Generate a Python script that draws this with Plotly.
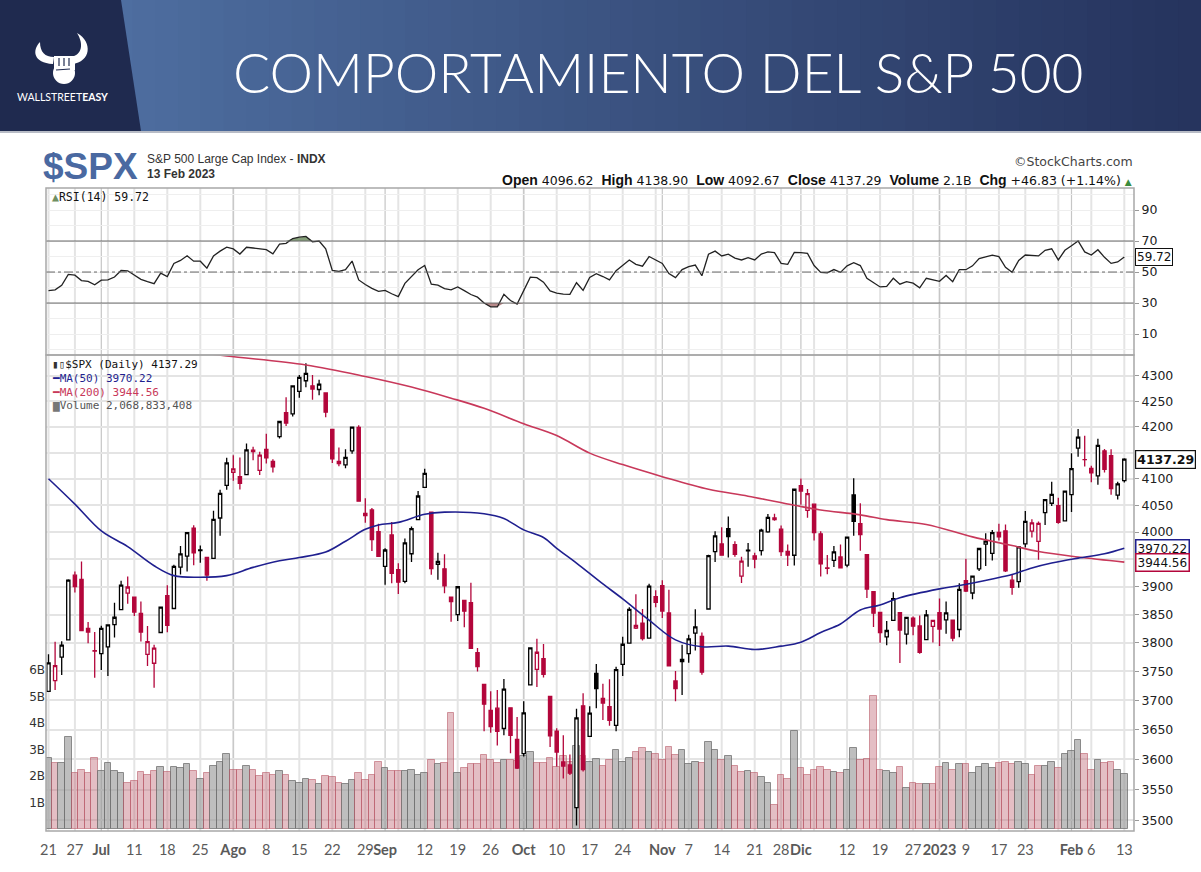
import numpy as np
import plotly.graph_objects as go

W, H = 1201, 872

# trading days shown on the chart
month_days = {
    "2022-06": [21, 22, 23, 24, 27, 28, 29, 30],
    "2022-07": [1, 5, 6, 7, 8, 11, 12, 13, 14, 15, 18, 19, 20, 21, 22, 25, 26, 27, 28, 29],
    "2022-08": [1, 2, 3, 4, 5, 8, 9, 10, 11, 12, 15, 16, 17, 18, 19, 22, 23, 24, 25, 26, 29, 30, 31],
    "2022-09": [1, 2, 6, 7, 8, 9, 12, 13, 14, 15, 16, 19, 20, 21, 22, 23, 26, 27, 28, 29, 30],
    "2022-10": [3, 4, 5, 6, 7, 10, 11, 12, 13, 14, 17, 18, 19, 20, 21, 24, 25, 26, 27, 28, 31],
    "2022-11": [1, 2, 3, 4, 7, 8, 9, 10, 11, 14, 15, 16, 17, 18, 21, 22, 23, 25, 28, 29, 30],
    "2022-12": [1, 2, 5, 6, 7, 8, 9, 12, 13, 14, 15, 16, 19, 20, 21, 22, 23, 27, 28, 29, 30],
    "2023-01": [3, 4, 5, 6, 9, 10, 11, 12, 13, 17, 18, 19, 20, 23, 24, 25, 26, 27, 30, 31],
    "2023-02": [1, 2, 3, 6, 7, 8, 9, 10, 13],
}
dates = [f"{m}-{d:02d}" for m, days in month_days.items() for d in days]

open_ = [3715.31, 3733.89, 3774.71, 3805.12, 3920.76, 3913.00, 3825.09, 3785.99,
         3781.00, 3792.61, 3831.98, 3858.85, 3888.26, 3880.94, 3851.95, 3779.67, 3763.99, 3818.00,
         3883.79, 3860.73, 3935.32, 3955.47, 4007.36, 3965.72, 3953.22, 3951.43, 4026.13, 4087.33,
         4112.38, 4104.21, 4107.96, 4154.85, 4115.87, 4155.93, 4133.11, 4181.02, 4227.40, 4225.02,
         4269.37, 4290.46, 4280.40, 4273.13, 4266.31, 4195.08, 4133.09, 4126.55, 4153.26, 4198.74,
         4034.58, 4041.25, 4000.67,
         3936.73, 3994.66, 3930.89, 3909.43, 3959.94, 4022.94, 4083.67, 4037.12, 3940.73, 3932.41,
         3880.95, 3849.91, 3875.23, 3871.40, 3782.36, 3727.14, 3682.72, 3686.44, 3651.94, 3687.01,
         3633.48,
         3609.78, 3726.46, 3753.25, 3771.97, 3706.74, 3647.51, 3595.86, 3590.83, 3520.37, 3690.41,
         3638.65, 3746.26, 3703.11, 3689.05, 3657.10, 3762.01, 3799.44, 3825.97, 3834.69, 3808.26,
         3881.85,
         3901.79, 3852.90, 3733.25, 3766.98, 3780.71, 3817.02, 3810.94, 3859.89, 3963.72, 3977.97,
         4006.41, 3976.82, 3919.26, 3966.39, 3956.23, 3965.51, 4000.30, 4023.34, 4005.36, 3964.19,
         3957.18,
         4087.14, 4040.17, 4052.02, 3996.63, 3933.28, 3947.79, 3954.17, 3939.29, 4069.38, 4015.54,
         3958.37, 3890.91, 3853.79, 3810.47, 3839.49, 3853.26, 3815.11, 3843.34, 3829.56, 3805.45,
         3829.06,
         3853.29, 3840.36, 3839.74, 3823.37, 3910.82, 3888.57, 3932.35, 3977.57, 3960.60, 3999.28,
         4002.25, 3911.84, 3909.04, 3978.14, 4001.74, 3982.71, 4036.08, 4053.72, 4049.27, 4020.85,
         4070.07, 4158.68, 4136.69, 4119.57, 4105.35, 4153.47, 4144.25, 4068.92, 4096.62]

high = [3779.65, 3801.79, 3802.58, 3913.65, 3927.72, 3945.86, 3836.50, 3818.99,
        3829.82, 3832.19, 3870.91, 3910.63, 3918.50, 3880.94, 3873.41, 3829.44, 3796.41, 3863.62,
        3902.44, 3939.81, 3974.13, 3999.29, 4012.44, 3975.30, 3953.22, 4039.56, 4078.95, 4140.15,
        4144.95, 4140.47, 4167.66, 4161.29, 4151.58, 4186.62, 4137.30, 4211.03, 4257.91, 4280.47,
        4301.79, 4325.28, 4302.18, 4292.53, 4266.31, 4195.08, 4159.77, 4156.56, 4200.54, 4203.04,
        4062.99, 4044.98, 4015.37,
        3970.23, 4018.43, 3942.55, 3987.89, 4010.50, 4076.81, 4119.28, 4037.12, 3961.94, 3959.14,
        3880.95, 3900.45, 3876.01, 3907.07, 3790.75, 3727.14, 3715.67, 3717.53, 3736.74, 3687.01,
        3671.44,
        3698.35, 3791.92, 3806.91, 3797.93, 3706.74, 3652.17, 3640.66, 3608.34, 3685.41, 3712.00,
        3689.73, 3762.79, 3728.58, 3736.00, 3757.89, 3810.74, 3862.85, 3886.15, 3859.95, 3905.42,
        3893.73,
        3911.79, 3894.44, 3750.59, 3796.34, 3813.95, 3859.40, 3818.20, 3958.33, 4001.48, 4008.97,
        4028.84, 3983.09, 3954.33, 3979.89, 3962.00, 4005.88, 4033.78, 4034.02, 4012.27, 3976.77,
        4080.11,
        4100.51, 4080.48, 4052.45, 4001.51, 3957.57, 3974.19, 3977.02, 3990.71, 4100.96, 4053.76,
        3958.37, 3890.91, 3854.86, 3838.24, 3889.82, 3853.26, 3845.80, 3846.65, 3848.32, 3858.19,
        3839.85,
        3878.46, 3873.16, 3839.74, 3906.19, 3950.57, 3919.83, 3970.07, 3997.76, 4003.95, 4015.39,
        4014.16, 3922.94, 3972.96, 4039.31, 4023.92, 4019.55, 4061.57, 4094.21, 4063.85, 4077.16,
        4148.95, 4195.44, 4182.36, 4124.63, 4176.54, 4156.85, 4156.23, 4094.36, 4138.90]

low = [3715.31, 3717.69, 3743.52, 3805.12, 3889.66, 3820.14, 3799.02, 3738.67,
       3752.10, 3742.06, 3809.37, 3858.85, 3869.34, 3847.22, 3802.36, 3759.07, 3721.56, 3817.18,
       3818.63, 3860.73, 3922.03, 3927.64, 3938.85, 3943.46, 3910.74, 3951.43, 3992.97, 4079.22,
       4096.02, 4079.81, 4107.96, 4135.42, 4107.31, 4128.97, 4112.09, 4177.26, 4201.41, 4219.78,
       4256.90, 4277.77, 4253.08, 4261.98, 4218.70, 4129.86, 4124.03, 4119.97, 4147.59, 4057.66,
       4017.42, 3965.21, 3954.53,
       3903.65, 3906.21, 3886.75, 3906.03, 3944.81, 4022.94, 4083.67, 3921.73, 3912.33, 3888.28,
       3837.08, 3838.50, 3827.54, 3789.49, 3749.45, 3647.47, 3644.76, 3623.29, 3640.61, 3610.40,
       3584.13,
       3604.93, 3726.46, 3722.66, 3739.22, 3620.73, 3588.10, 3568.45, 3573.86, 3491.58, 3579.68,
       3638.65, 3686.53, 3666.51, 3656.44, 3647.42, 3741.65, 3799.44, 3824.07, 3803.79, 3808.26,
       3863.18,
       3843.80, 3758.68, 3698.15, 3708.84, 3764.70, 3786.28, 3744.22, 3859.89, 3944.82, 3956.40,
       3953.17, 3954.34, 3906.54, 3935.98, 3933.34, 3956.88, 3998.66, 4020.76, 3955.77, 3937.65,
       3938.58,
       4050.87, 4026.63, 3984.49, 3918.39, 3922.68, 3935.83, 3933.04, 3935.30, 3993.03, 3965.65,
       3879.45, 3827.91, 3800.04, 3795.62, 3839.49, 3764.49, 3797.01, 3813.22, 3780.78, 3805.45,
       3800.34,
       3794.33, 3815.77, 3802.42, 3809.56, 3890.42, 3877.29, 3928.54, 3937.56, 3947.67, 3984.57,
       3926.59, 3885.54, 3897.86, 3971.64, 3989.79, 3949.06, 4013.29, 4048.70, 4015.55, 4020.44,
       4037.20, 4141.88, 4123.36, 4093.38, 4088.39, 4111.67, 4069.67, 4060.79, 4092.67]

close = [3764.79, 3759.89, 3795.73, 3911.74, 3900.11, 3821.55, 3818.83, 3785.38,
         3825.33, 3831.39, 3845.08, 3902.62, 3899.38, 3854.43, 3818.80, 3801.78, 3790.38, 3863.16,
         3830.85, 3936.69, 3959.90, 3998.95, 3961.63, 3966.84, 3921.05, 4023.61, 4072.43, 4130.29,
         4118.63, 4091.19, 4155.17, 4151.94, 4145.19, 4140.06, 4122.47, 4210.24, 4207.27, 4280.15,
         4297.14, 4305.20, 4274.04, 4283.74, 4228.48, 4137.99, 4128.73, 4140.77, 4199.12, 4057.66,
         4030.61, 3986.16, 3955.00,
         3966.85, 3924.26, 3908.19, 3979.87, 4006.18, 4067.36, 4110.41, 3932.69, 3946.01, 3901.35,
         3873.33, 3899.89, 3855.93, 3789.93, 3757.99, 3693.23, 3655.04, 3647.29, 3719.04, 3640.47,
         3585.62,
         3678.43, 3790.93, 3783.28, 3744.52, 3639.66, 3612.39, 3588.84, 3577.03, 3669.91, 3583.07,
         3677.95, 3719.98, 3695.16, 3665.78, 3752.75, 3797.34, 3859.11, 3830.60, 3807.30, 3901.06,
         3871.98,
         3856.10, 3759.69, 3719.89, 3770.55, 3806.80, 3828.11, 3748.57, 3956.37, 3992.93, 3957.25,
         3991.73, 3958.79, 3946.56, 3965.34, 3949.94, 4003.58, 4027.26, 4026.12, 3963.94, 3957.63,
         4080.11,
         4076.57, 4071.70, 3998.84, 3941.26, 3933.92, 3963.51, 3934.38, 3990.56, 4019.65, 3995.32,
         3895.75, 3852.36, 3817.66, 3821.62, 3878.44, 3822.39, 3844.82, 3829.25, 3783.22, 3849.28,
         3839.50,
         3824.14, 3852.97, 3808.10, 3895.08, 3892.09, 3919.25, 3969.61, 3983.17, 3999.09, 3990.97,
         3928.86, 3898.85, 3972.61, 4019.81, 4016.95, 4016.22, 4060.43, 4070.56, 4017.77, 4076.60,
         4119.21, 4179.76, 4136.48, 4111.08, 4164.00, 4117.86, 4081.50, 4090.46, 4137.29]
close_before_first = 3674.84

# volume in billions of shares
volume_b = [2.68, 2.49, 2.49, 3.47, 2.10, 2.23, 2.10, 2.68, 2.19, 2.49, 2.19, 2.11, 1.74, 1.81,
            2.15, 2.04, 2.19, 2.34, 2.15, 2.34, 2.30, 2.45, 2.19, 1.89, 2.11, 2.38, 2.53, 2.83,
            2.23, 2.23, 2.38, 2.23, 2.00, 2.11, 2.04, 2.19, 2.04, 1.81, 1.74, 1.89, 1.85, 1.70,
            2.00, 1.96, 1.74, 1.70, 1.85, 2.11, 1.85, 2.04, 2.53, 2.30, 2.19, 2.19, 2.19, 2.23,
            2.04, 2.11, 2.60, 2.45, 2.49, 4.38, 2.11, 2.30, 2.45, 2.45, 2.79, 2.60, 2.49, 2.60,
            2.60, 2.57, 2.75, 2.91, 2.49, 2.49, 2.69, 2.34, 2.75, 2.53, 3.13, 2.75,
            2.53, 2.64, 2.38, 2.60, 2.98, 2.53, 2.68, 2.91, 3.06, 2.91, 2.83, 2.60, 3.09, 2.79,
            2.98, 2.45, 2.53, 2.49, 3.28, 2.98, 2.60, 2.75, 2.38, 2.15, 2.19, 2.11, 1.96, 1.74,
            0.91, 2.04, 1.89, 3.70, 2.30, 2.04, 2.23, 2.34, 2.23, 2.15, 2.11, 2.23, 3.06,
            2.60, 2.64, 5.02, 2.23, 2.19, 2.11, 2.34, 1.55, 1.74, 1.70, 1.70, 1.70, 2.34, 2.49,
            2.23, 2.45, 2.45, 2.11, 2.34, 2.45, 2.30, 2.49, 2.53, 2.45, 2.53, 2.45, 2.04, 2.38,
            2.38, 2.53, 2.30, 2.83, 2.94, 3.36, 2.83, 2.23, 2.60, 2.49, 2.53, 2.23, 2.07]

rsi = [38.0, 38.5, 41.5, 48.5, 48.0, 44.5, 44.0, 41.8, 44.8, 45.0, 46.8, 51.0, 50.8, 48.3, 45.3,
       43.8, 42.5, 49.3, 47.1,
       55.5, 57.5, 60.5, 57.0, 57.0, 52.5, 60.4, 63.5, 66.0, 64.9, 61.6, 66.0, 65.5, 64.9, 64.4,
       61.8, 68.0, 68.5, 71.6, 72.5, 73.0, 69.5, 70.0, 65.0,
       51.0, 50.4, 51.5, 57.1, 44.9, 42.0, 39.5, 37.6, 38.2, 36.0, 34.2, 42.7, 47.1, 51.5, 54.2,
       42.2, 41.5, 39.3, 38.5, 40.4, 38.0, 35.5, 33.8, 30.0, 27.6, 27.5, 35.6, 31.6, 29.3,
       37.5, 46.7, 46.4, 43.5, 37.8, 36.4, 35.8, 35.6, 43.1, 38.2, 46.5, 48.9, 47.1, 44.9, 50.9,
       54.5, 57.8, 55.0, 53.8, 60.0, 57.5, 55.5, 49.0, 46.4, 51.6, 53.5, 54.5, 47.6,
       61.5, 63.5, 60.4, 61.5, 59.0, 57.8, 59.3, 57.8, 61.6, 63.0, 62.5, 55.6, 55.0, 62.7, 62.5,
       62.0, 54.2, 49.8, 49.5, 51.6, 49.8, 54.0, 56.0, 54.2, 46.0, 43.0, 40.4, 40.8, 46.0, 42.2,
       43.8, 42.8, 39.8, 46.0, 45.0,
       44.0, 47.8, 43.8, 51.6, 51.5, 54.0, 58.7, 59.8, 60.9, 60.0, 53.0, 49.8, 57.5, 61.0, 60.5,
       60.4, 64.0, 65.0, 57.8, 64.0, 67.0, 70.0, 63.0, 61.0, 64.4, 59.5, 55.6, 56.5, 59.72]

# moving averages at selected days (index into dates)
ma50_idx = [0, 4, 8, 12, 16, 19, 23, 27, 31, 35, 38, 42, 45, 48, 50, 53, 57, 60, 66, 69, 72, 75,
            77, 80, 84, 87, 91, 95, 99, 103, 107, 111, 114, 117, 120, 123, 126, 129, 135, 138,
            143, 146, 149, 152, 156, 160, 163]
ma50_val = [4100, 4052, 4002, 3973, 3938, 3920, 3917, 3920, 3935, 3947, 3953, 3963, 3983, 4005,
            4013, 4018, 4033, 4037, 4034, 4025, 4004, 3990, 3970, 3943, 3905, 3878, 3840, 3805,
            3793, 3794, 3788, 3794, 3801, 3818, 3833, 3858, 3867, 3880, 3896, 3902, 3914, 3922,
            3934, 3943, 3952, 3960, 3970.22]
ma200_idx = [0, 10, 20, 27, 39, 48, 55, 61, 66, 72, 77, 82, 87, 93, 100, 106, 113, 117, 123, 127,
             133, 140, 146, 150, 156, 163]
ma200_val = [4385, 4369, 4352, 4340, 4322, 4299, 4278, 4256, 4236, 4206, 4183, 4149, 4127, 4104,
             4080, 4067, 4050, 4041, 4032, 4023, 4014, 3991, 3975, 3964, 3954, 3944.56]

tick_dates = ["2022-06-21", "2022-06-27", "2022-07-01", "2022-07-11", "2022-07-18", "2022-07-25",
              "2022-08-01", "2022-08-08", "2022-08-15", "2022-08-22", "2022-08-29", "2022-09-01",
              "2022-09-12", "2022-09-19", "2022-09-26", "2022-10-03", "2022-10-10", "2022-10-17",
              "2022-10-24", "2022-11-01", "2022-11-07", "2022-11-14", "2022-11-21", "2022-11-28",
              "2022-12-01", "2022-12-12", "2022-12-19", "2022-12-27", "2023-01-03", "2023-01-09",
              "2023-01-17", "2023-01-23", "2023-02-01", "2023-02-06", "2023-02-13"]
tick_text = ["21", "27", "<b>Jul</b>", "11", "18", "25", "<b>Ago</b>", "8", "15", "22", "29",
             "<b>Sep</b>", "12", "19", "26", "<b>Oct</b>", "10", "17", "24", "<b>Nov</b>", "7",
             "14", "21", "28", "<b>Dic</b>", "12", "19", "27", "<b>2023</b>", "9", "17", "23",
             "<b>Feb</b>", "6", "13"]
week_starts = ["2022-06-21", "2022-06-27", "2022-07-05", "2022-07-11", "2022-07-18", "2022-07-25",
               "2022-08-01", "2022-08-08", "2022-08-15", "2022-08-22", "2022-08-29", "2022-09-06",
               "2022-09-12", "2022-09-19", "2022-09-26", "2022-10-03", "2022-10-10", "2022-10-17",
               "2022-10-24", "2022-10-31", "2022-11-07", "2022-11-14", "2022-11-21", "2022-11-28",
               "2022-12-05", "2022-12-12", "2022-12-19", "2022-12-27", "2023-01-03", "2023-01-09",
               "2023-01-17", "2023-01-23", "2023-01-30", "2023-02-06", "2023-02-13"]
month_starts = ["2022-07-01", "2022-08-01", "2022-09-01", "2022-10-03", "2022-11-01",
                "2022-12-01", "2023-01-03", "2023-02-01"]
price_ticks = list(range(3500, 4301, 50))
hidden_price_labels = [3950, 4150]  # covered by the value boxes on the chart
rsi_ticks = [10, 30, 50, 70, 90]
vol_ticks = [1, 2, 3, 4, 5, 6]

RED = "#b3063b"
BLUE = "#1f1f8f"


def px(x):
    return x / W


def py(y):
    return 1 - y / H


def pt(x, y):
    return f"{px(x):.5f},{py(y):.5f}"


# colouring rule of the chart: black when close >= previous close, red otherwise
close_arr = np.array(close)
prev_close = np.concatenate([[close_before_first], close_arr[:-1]])
up = close_arr >= prev_close
idx_up = np.where(up)[0]
idx_dn = np.where(~up)[0]


def pick(seq, idx):
    return [seq[i] for i in idx]


fig = go.Figure()

# volume (base axis of the price panel, drawn beneath the candles)
fig.add_trace(go.Bar(
    x=dates, y=volume_b, yaxis="y2",
    marker=dict(color=["rgba(150,150,150,0.62)" if u else "rgba(190,100,115,0.42)" for u in up],
                line=dict(color=["rgba(110,110,110,0.75)" if u else "rgba(180,80,95,0.55)" for u in up],
                          width=1)),
    hoverinfo="skip"))

# moving averages
fig.add_trace(go.Scatter(x=pick(dates, ma200_idx), y=ma200_val, yaxis="y3", mode="lines",
                         line=dict(color="#c8385a", width=1.6, shape="spline"), hoverinfo="skip"))
fig.add_trace(go.Scatter(x=pick(dates, ma50_idx), y=ma50_val, yaxis="y3", mode="lines",
                         line=dict(color=BLUE, width=1.6, shape="spline"), hoverinfo="skip"))

# candles
fig.add_trace(go.Candlestick(
    x=pick(dates, idx_up), open=pick(open_, idx_up), high=pick(high, idx_up),
    low=pick(low, idx_up), close=pick(close, idx_up), yaxis="y3",
    increasing=dict(line=dict(color="black", width=1.3), fillcolor="white"),
    decreasing=dict(line=dict(color="black", width=1.3), fillcolor="black"),
    hoverinfo="skip"))
fig.add_trace(go.Candlestick(
    x=pick(dates, idx_dn), open=pick(open_, idx_dn), high=pick(high, idx_dn),
    low=pick(low, idx_dn), close=pick(close, idx_dn), yaxis="y3",
    increasing=dict(line=dict(color=RED, width=1.3), fillcolor="white"),
    decreasing=dict(line=dict(color=RED, width=1.3), fillcolor=RED),
    hoverinfo="skip"))

# RSI with overbought / oversold shading
rsi_arr = np.array(rsi)
fig.add_trace(go.Scatter(x=dates, y=[70] * len(dates), yaxis="y", mode="lines",
                         line=dict(width=0), hoverinfo="skip"))
fig.add_trace(go.Scatter(x=dates, y=np.maximum(rsi_arr, 70), yaxis="y", mode="lines",
                         line=dict(width=0), fill="tonexty", fillcolor="#86a07a", hoverinfo="skip"))
fig.add_trace(go.Scatter(x=dates, y=[30] * len(dates), yaxis="y", mode="lines",
                         line=dict(width=0), hoverinfo="skip"))
fig.add_trace(go.Scatter(x=dates, y=np.minimum(rsi_arr, 30), yaxis="y", mode="lines",
                         line=dict(width=0), fill="tonexty", fillcolor="#b88a8a", hoverinfo="skip"))
fig.add_trace(go.Scatter(x=dates, y=rsi, yaxis="y", mode="lines",
                         line=dict(color="#222222", width=1.3), hoverinfo="skip"))

shapes = []
# header background: horizontal blue gradient in strips, dark block on the left
n_strip = 48
c0, c1 = np.array([78, 110, 160]), np.array([38, 52, 94])
xs = np.linspace(110, W, n_strip + 1)
for i in range(n_strip):
    c = (c0 + (c1 - c0) * i / (n_strip - 1)).astype(int)
    shapes.append(dict(type="rect", xref="paper", yref="paper", x0=px(xs[i]), x1=px(xs[i + 1]) + 0.001,
                       y0=py(131), y1=1, line=dict(width=0), fillcolor=f"rgb({c[0]},{c[1]},{c[2]})",
                       layer="below"))
shapes.append(dict(type="path", xref="paper", yref="paper",
                   path=f"M {pt(0, 0)} L {pt(121, 0)} L {pt(141, 131)} L {pt(0, 131)} Z",
                   fillcolor="#1f2a4f", line=dict(width=0), layer="below"))
shapes.append(dict(type="line", xref="paper", yref="paper", x0=0, x1=1, y0=py(132), y1=py(132),
                   line=dict(color="#b8bcc6", width=2)))
# logo: horns and fist
shapes.append(dict(type="path", xref="paper", yref="paper",
                   path=f"M {pt(40, 42)} C {pt(32, 50)} {pt(33, 63)} {pt(53, 64)} L {pt(54, 57)} "
                        f"C {pt(45, 57)} {pt(40, 52)} {pt(40, 42)} Z",
                   fillcolor="white", line=dict(width=0)))
shapes.append(dict(type="path", xref="paper", yref="paper",
                   path=f"M {pt(77, 33)} C {pt(93, 42)} {pt(91, 62)} {pt(72, 64)} L {pt(71, 57)} "
                        f"C {pt(82, 55)} {pt(84, 44)} {pt(77, 33)} Z",
                   fillcolor="white", line=dict(width=0)))
shapes.append(dict(type="circle", xref="paper", yref="paper", x0=px(53), x1=px(75), y0=py(84), y1=py(62),
                   fillcolor="white", line=dict(width=0)))
shapes.append(dict(type="rect", xref="paper", yref="paper", x0=px(54), x1=px(75), y0=py(70), y1=py(56),
                   fillcolor="white", line=dict(width=0)))
for fx in [59, 64, 69]:
    shapes.append(dict(type="line", xref="paper", yref="paper", x0=px(fx), x1=px(fx), y0=py(58), y1=py(66),
                       line=dict(color="#1f2a4f", width=1.2)))
shapes.append(dict(type="line", xref="paper", yref="paper", x0=px(56), x1=px(70), y0=py(70), y1=py(69),
                   line=dict(color="#1f2a4f", width=1.2)))

# vertical grid: week starts light and wide, month starts darker
for d in week_starts:
    shapes.append(dict(type="line", xref="x", yref="paper", x0=d, x1=d, y0=py(831), y1=py(188),
                       line=dict(color="#e4e4e4", width=2), layer="below"))
for d in month_starts:
    shapes.append(dict(type="line", xref="x", yref="paper", x0=d, x1=d, y0=py(831), y1=py(188),
                       line=dict(color="#c6c6c6", width=1.2), layer="below"))

# RSI reference lines
for lvl, dash in [(70, "solid"), (30, "solid"), (50, "dashdot")]:
    shapes.append(dict(type="line", xref="paper", yref="y", x0=px(46), x1=px(1134), y0=lvl, y1=lvl,
                       line=dict(color="#666666", width=1, dash=dash)))

# panel frames
for y0, y1 in [(188, 355), (355, 831)]:
    shapes.append(dict(type="rect", xref="paper", yref="paper", x0=px(46), x1=px(1134),
                       y0=py(y1), y1=py(y0), line=dict(color="#a8a8a8", width=1.5)))

annotations = []


def label(x, y, text, size=12, color="#222", family="Liberation Sans", xanchor="left",
          yanchor="middle", xref="paper", yref="paper", weight=None, **kw):
    font = dict(size=size, color=color, family=family)
    if weight:
        font["weight"] = weight
    annotations.append(dict(x=x, y=y, xref=xref, yref=yref, text=text, showarrow=False,
                            xanchor=xanchor, yanchor=yanchor, font=font, **kw))


label(px(658), py(72), "COMPORTAMIENTO DEL S&P 500", size=55, color="white",
      family="Lato", xanchor="center", weight=300)
label(px(62), py(97), "WALLSTREET<b>EASY</b>", size=10.5, color="white", family="Lato",
      xanchor="center")

label(px(41), py(166), "<b>$SPX</b>", size=37, color="#4a69a1")
label(px(145), py(159), "S&P 500 Large Cap Index - <b>INDX</b>", size=12, color="#333")
label(px(145), py(174), "<b>13 Feb 2023</b>", size=12, color="#333")
label(px(1135), py(162), "©StockCharts.com", size=12.5, color="#444", family="DejaVu Sans",
      xanchor="right")


def bold(s):
    return f"<span style='font-family:Liberation Sans;font-size:14px;font-weight:bold'>{s}</span>"


ohlc_text = (f"{bold('Open')} 4096.62  {bold('High')} 4138.90  {bold('Low')} 4092.67  "
             f"{bold('Close')} 4137.29  {bold('Volume')} 2.1B  {bold('Chg')} +46.83 (+1.14%) "
             "<span style='color:#3c8c3c;font-size:9px'>▲</span>")
label(px(1134), py(180), ohlc_text, size=12.5, color="#111", family="DejaVu Sans", xanchor="right")

mono = "DejaVu Sans Mono"
label(px(50), py(197), "<span style='color:#6f8f62'>▲</span>RSI(14) 59.72", size=11.5, family=mono,
      color="#111")
label(px(50), py(364), "<span style='color:#333'>▮▯</span>$SPX (Daily) 4137.29", size=11, family=mono,
      color="#111")
label(px(50), py(378), "<b>━</b>MA(50) 3970.22", size=11, family=mono, color=BLUE)
label(px(50), py(392), "<b>━</b>MA(200) 3944.56", size=11, family=mono, color="#c8385a")
label(px(50), py(406), "<span style='color:#777'>▆</span>Volume 2,068,833,408", size=11,
      family=mono, color="#555")

# current value boxes on the right axis
label(px(1135), 59.72, "59.72", size=12, family="DejaVu Sans", color="#111", yref="y",
      bordercolor="#111", borderwidth=1, borderpad=1, bgcolor="white")
label(px(1135), np.log10(close[-1]), "<b>4137.29</b>", size=12.5, family="DejaVu Sans", color="#111",
      yref="y3", bordercolor="#111", borderwidth=1.2, borderpad=1, bgcolor="white")
label(px(1135), np.log10(ma50_val[-1]), "3970.22", size=12, family="DejaVu Sans", color="#111",
      yref="y3", bordercolor=BLUE, borderwidth=1.5, borderpad=1, bgcolor="white")
label(px(1135), np.log10(ma200_val[-1]), "3944.56", size=12, family="DejaVu Sans", color="#111",
      yref="y3", bordercolor=RED, borderwidth=1.5, borderpad=1, bgcolor="white")

k_left = (46 - 48.5) / 6.6
k_right = (1134 - 48.5) / 6.6

fig.update_layout(
    width=W, height=H, margin=dict(l=0, r=0, t=0, b=0, autoexpand=False),
    paper_bgcolor="white", plot_bgcolor="white", showlegend=False,
    bargap=0, hovermode=False,
    shapes=shapes, annotations=annotations,
    xaxis=dict(domain=[px(46), px(1134)], anchor="y2", type="category", automargin=False,
               categoryorder="array", categoryarray=dates, range=[k_left, k_right],
               rangeslider=dict(visible=False), showgrid=False, zeroline=False,
               tickmode="array", tickvals=tick_dates, ticktext=tick_text, ticks="",
               tickangle=0, ticklabelstandoff=8,
               tickfont=dict(size=14.5, color="#5a5a5a", family="Lato")),
    yaxis=dict(domain=[py(355), py(188)], anchor="x", side="right", range=[-3.5, 104.2],
               automargin=False,
               tickmode="array", tickvals=rsi_ticks, ticks="outside", ticklen=4,
               tickcolor="#999", showgrid=True, gridcolor="#eeeeee", zeroline=False,
               minor=dict(tickmode="linear", tick0=0, dtick=10, showgrid=True, gridcolor="#efefef"),
               tickfont=dict(size=12.5, color="#222", family="DejaVu Sans")),
    yaxis2=dict(domain=[py(831), py(355)], anchor="x", side="left", range=[-0.08, 17.9],
                automargin=False,
                tickmode="array", tickvals=vol_ticks, ticktext=[f"{v}B" for v in vol_ticks],
                showgrid=False, zeroline=False, ticks="",
                tickfont=dict(size=12, color="#333", family="DejaVu Sans")),
    yaxis3=dict(overlaying="y2", anchor="x", side="right", type="log", automargin=False,
                range=[np.log10(3482.5), np.log10(4342)],
                tickmode="array", tickvals=price_ticks,
                ticktext=["" if v in hidden_price_labels else str(v) for v in price_ticks],
                ticks="outside", ticklen=4, tickcolor="#999",
                showgrid=True, gridcolor="#e4e4e4", gridwidth=1.5, zeroline=False,
                tickfont=dict(size=12.5, color="#222", family="DejaVu Sans")),
)

# pin the 1201x872 figure to the top-left corner of the window
page_js = ("document.body.style.margin='0px';document.body.style.overflow='hidden';"
           "var gd=document.getElementById('{plot_id}');gd.style.position='absolute';"
           "gd.style.left='0px';gd.style.top='0px';")
fig.write_html("out.html", config={"displayModeBar": False}, post_script=page_js)
